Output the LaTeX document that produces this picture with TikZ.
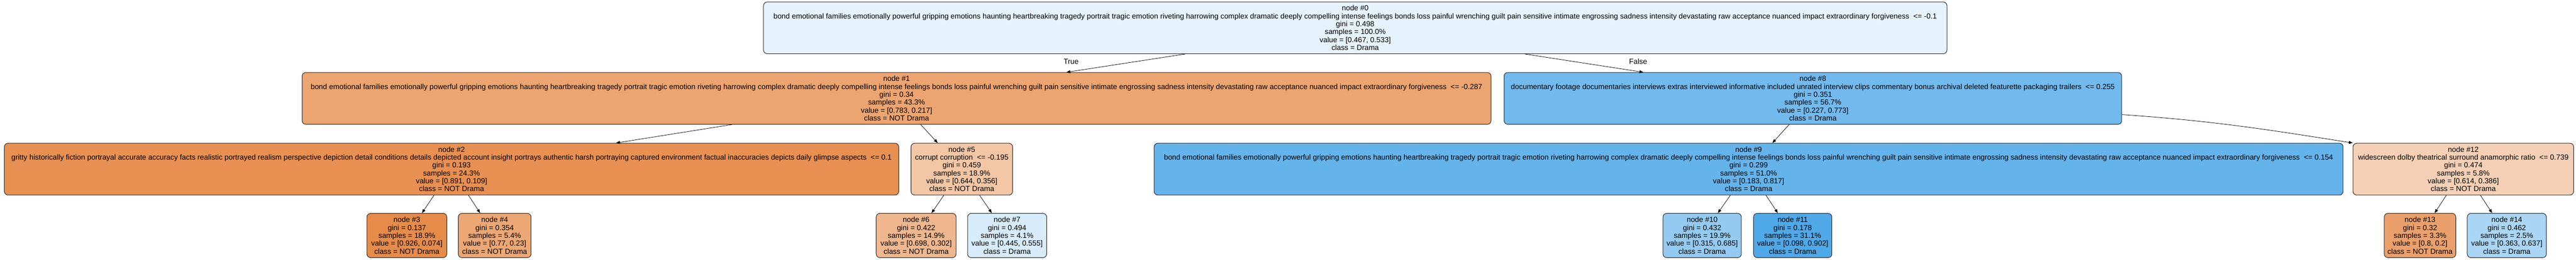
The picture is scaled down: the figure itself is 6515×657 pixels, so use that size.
\documentclass[tikz,border=0pt]{standalone}
\usepackage{fontspec}
\setmainfont{Liberation Sans}
\usepackage{tikz}
\usetikzlibrary{positioning, arrows.meta}

\definecolor{clsA}{RGB}{229,129,57}
\definecolor{clsB}{RGB}{57,157,229}

\tikzset{
  nodo/.style={draw=black!85, line width=1pt, rounded corners=7pt, align=center,
    inner sep=3pt, font=\fontsize{14}{15}\selectfont},
  decision/.style={nodo, minimum height=98.25pt},
  hoja/.style={nodo, minimum height=84pt},
  ancho/.style={minimum width=#1*0.75pt},
  etiq/.style={font=\fontsize{14}{15}\selectfont}
}

\newcommand{\rasgoA}{bond emotional families emotionally powerful gripping emotions haunting heartbreaking tragedy portrait tragic emotion riveting harrowing complex dramatic deeply compelling intense feelings bonds loss painful wrenching guilt pain sensitive intimate engrossing sadness intensity devastating raw acceptance nuanced impact extraordinary forgiveness}

\begin{document}
\begin{tikzpicture}[->,>={Stealth[inset=0pt,length=7.5pt,width=5.5pt]},on grid,auto,x=0.75pt,y=-0.75pt]
            \useasboundingbox (0,0) rectangle (6515,657);
            %%% NODOS %%%
            % Raiz
            \node[decision,ancho=2993,fill=clsB!12!white] (n0) at (3427.5,70.5)
              {node \#0\\ \rasgoA\ \ <= -0.1\\ gini = 0.498\\ samples = 100.0\%\\ value = [0.467, 0.533]\\ class = Drama};

            % Nivel 1
            \node[decision,ancho=3007,fill=clsA!72!white] (n1) [below left=133.9pt and 870pt of n0]
              {node \#1\\ \rasgoA\ \ <= -0.287\\ gini = 0.34\\ samples = 43.3\%\\ value = [0.783, 0.217]\\ class = NOT Drama};
            \node[decision,ancho=1562,fill=clsB!71!white] (n8) [below right=133.9pt and 868.1pt of n0]
              {node \#8\\ documentary footage documentaries interviews extras interviewed informative included unrated interview clips commentary bonus archival deleted featurette packaging trailers\ \ <= 0.255\\ gini = 0.351\\ samples = 56.7\%\\ value = [0.227, 0.773]\\ class = Drama};

            % Nivel 2
            \node[decision,ancho=2262,fill=clsA!88!white] (n2) [below left=134.25pt and 844.1pt of n1]
              {node \#2\\ gritty historically fiction portrayal accurate accuracy facts realistic portrayed realism perspective depiction detail conditions details depicted account insight portrays authentic harsh portraying captured environment factual inaccuracies depicts daily glimpse aspects\ \ <= 0.1\\ gini = 0.193\\ samples = 24.3\%\\ value = [0.891, 0.109]\\ class = NOT Drama};
            \node[decision,ancho=257,fill=clsA!45!white] (n5) [below right=134.25pt and 123.75pt of n1]
              {node \#5\\ corrupt corruption\ \ <= -0.195\\ gini = 0.459\\ samples = 18.9\%\\ value = [0.644, 0.356]\\ class = NOT Drama};
            \node[decision,ancho=3007,fill=clsB!78!white] (n9) [below left=134.25pt and 121.9pt of n8]
              {node \#9\\ \rasgoA\ \ <= 0.154\\ gini = 0.299\\ samples = 51.0\%\\ value = [0.183, 0.817]\\ class = Drama};
            \node[decision,ancho=558,fill=clsA!37!white] (n12) [below right=134.25pt and 1233.75pt of n8]
              {node \#12\\ widescreen dolby theatrical surround anamorphic ratio\ \ <= 0.739\\ gini = 0.474\\ samples = 5.8\%\\ value = [0.614, 0.386]\\ class = NOT Drama};

            % Hojas
            \node[hoja,ancho=202,fill=clsA!92!white] (n3) [below left=126pt and 84.75pt of n2]
              {node \#3\\ gini = 0.137\\ samples = 18.9\%\\ value = [0.926, 0.074]\\ class = NOT Drama};
            \node[hoja,ancho=184,fill=clsA!70!white] (n4) [below right=126pt and 81.75pt of n2]
              {node \#4\\ gini = 0.354\\ samples = 5.4\%\\ value = [0.77, 0.23]\\ class = NOT Drama};
            \node[hoja,ancho=202,fill=clsA!57!white] (n6) [below left=126pt and 86.6pt of n5]
              {node \#6\\ gini = 0.422\\ samples = 14.9\%\\ value = [0.698, 0.302]\\ class = NOT Drama};
            \node[hoja,ancho=200,fill=clsB!20!white] (n7) [below right=126pt and 85.9pt of n5]
              {node \#7\\ gini = 0.494\\ samples = 4.1\%\\ value = [0.445, 0.555]\\ class = Drama};
            \node[hoja,ancho=198,fill=clsB!54!white] (n10) [below left=126pt and 88.1pt of n9]
              {node \#10\\ gini = 0.432\\ samples = 19.9\%\\ value = [0.315, 0.685]\\ class = Drama};
            \node[hoja,ancho=198,fill=clsB!89!white] (n11) [below right=126pt and 83.6pt of n9]
              {node \#11\\ gini = 0.178\\ samples = 31.1\%\\ value = [0.098, 0.902]\\ class = Drama};
            \node[hoja,ancho=181,fill=clsA!75!white] (n13) [below left=126pt and 82.1pt of n12]
              {node \#13\\ gini = 0.32\\ samples = 3.3\%\\ value = [0.8, 0.2]\\ class = NOT Drama};
            \node[hoja,ancho=200,fill=clsB!43!white] (n14) [below right=126pt and 82.5pt of n12]
              {node \#14\\ gini = 0.462\\ samples = 2.5\%\\ value = [0.363, 0.637]\\ class = Drama};

            % Etiquetas de la raiz
            \node[etiq] (vt) [above right=69.75pt and 331.1pt of n1] {True};
            \node[etiq] (vf) [above left=69.75pt and 331.5pt of n8] {False};

            %%% ARISTAS %%%
            \path[line width=0.75pt]
            (n0)  edge (n1)
                  edge (n8)
            (n1)  edge (n2)
                  edge (n5)
            (n2)  edge (n3)
                  edge (n4)
            (n5)  edge (n6)
                  edge (n7)
            (n8)  edge (n9)
            (n8.-3.6) edge [out=-4,in=171] (n12.north west)
            (n9)  edge (n10)
                  edge (n11)
            (n12) edge (n13)
                  edge (n14);
        \end{tikzpicture}
\end{document}
